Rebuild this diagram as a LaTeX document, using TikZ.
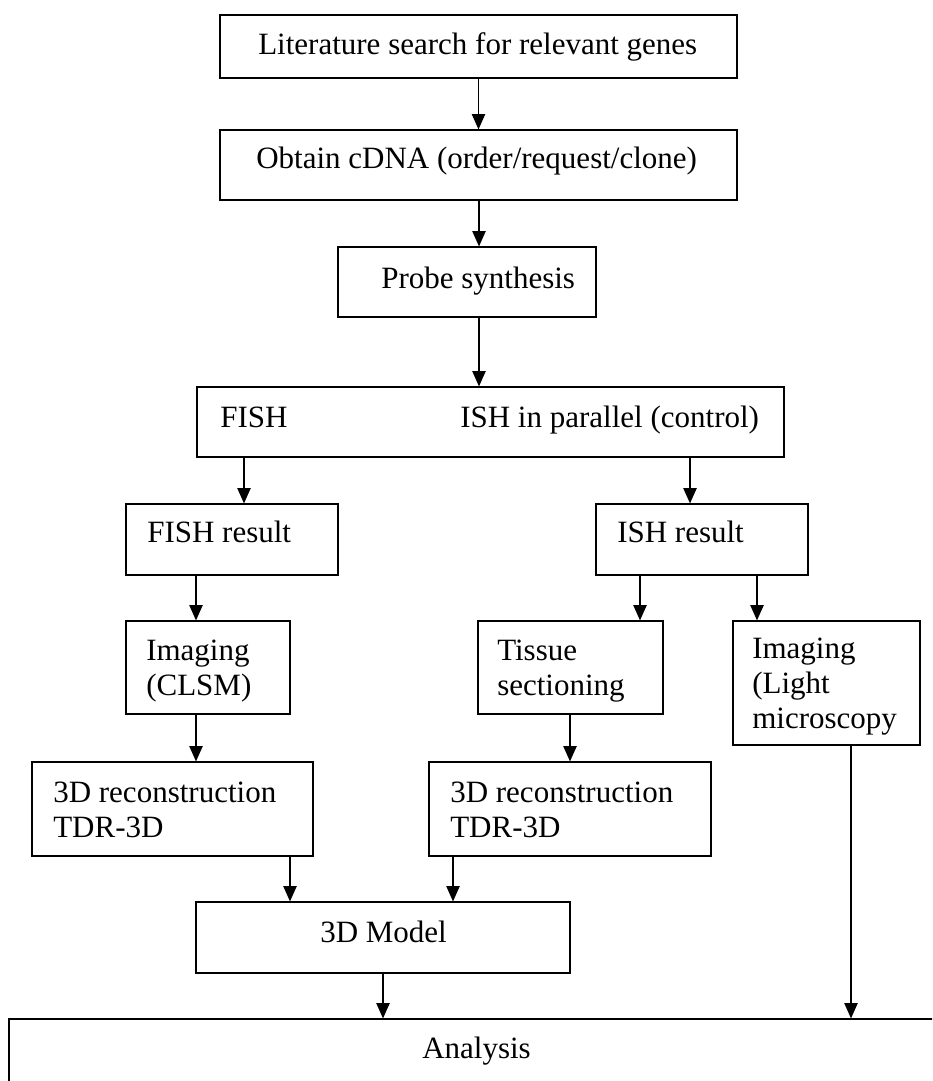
\documentclass[tikz,border=0pt]{standalone}
\usepackage{fontspec}
\setmainfont{Liberation Serif}
\usetikzlibrary{arrows.meta,fit}
\begin{document}
\begin{tikzpicture}[x=0.75pt,y=-0.75pt,
  box/.style={draw,line width=0.9pt,inner sep=0pt},
  txt/.style={anchor=base west,inner sep=0pt,align=left,font=\fontsize{23.25}{26.25}\selectfont},
  arr/.style={line width=0.9pt,-{Triangle[length=11.5pt,width=10pt]}}]
\useasboundingbox (0,0) rectangle (932,1081);
\clip (0,0) rectangle (932,1081);
% boxes
\node[box,fit={(220,15) (737,78)}] (lit) {};
\node[box,fit={(220,130) (737,200)}] (cdna) {};
\node[box,fit={(338,247) (596,317)}] (probe) {};
\node[box,fit={(197,387) (784,457)}] (hyb) {};
\node[box,fit={(126,504) (338,575)}] (fishres) {};
\node[box,fit={(596,504) (808,575)}] (ishres) {};
\node[box,fit={(126,621) (290,714)}] (clsm) {};
\node[box,fit={(478,621) (663,714)}] (tissue) {};
\node[box,fit={(733,621) (920,745)}] (light) {};
\node[box,fit={(32,762) (313,856)}] (recL) {};
\node[box,fit={(429,762) (711,856)}] (recR) {};
\node[box,fit={(196,902) (570,973)}] (model) {};
\node[box,fit={(9,1019) (960,1110)}] (ana) {};
% texts (anchor = baseline of the last line)
\node[txt] (litT) at (258,55) {Literature search for relevant genes};
\node[txt] (cdnaT) at (256,168) {Obtain cDNA (order/request/clone)};
\node[txt] (probeT) at (381,288) {Probe synthesis};
\node[txt] (fishT) at (220,427) {FISH};
\node[txt] (ishT) at (460,427) {ISH in parallel (control)};
\node[txt] (fishresT) at (147,542) {FISH result};
\node[txt] (ishresT) at (617,542) {ISH result};
\node[txt] (clsmT) at (146,695) {Imaging\\(CLSM)};
\node[txt] (tissueT) at (497,695) {Tissue\\sectioning};
\node[txt] (lightT) at (752,728) {Imaging\\(Light\\microscopy};
\node[txt] (recLT) at (53,837) {3D reconstruction\\TDR-3D};
\node[txt] (recRT) at (450,837) {3D reconstruction\\TDR-3D};
\node[txt] (modelT) at (320,942) {3D Model};
\node[txt] (anaT) at (422,1058) {Analysis};
% connectors
\draw[arr] (lit.south) -- (cdna.north);
\draw[arr] (479,0 |- cdna.south) -- (479,0 |- probe.north);
\draw[arr] (479,0 |- probe.south) -- (479,0 |- hyb.north);
\draw[arr] (244,0 |- hyb.south) -- (244,0 |- fishres.north);
\draw[arr] (690,0 |- hyb.south) -- (690,0 |- ishres.north);
\draw[arr] (196,0 |- fishres.south) -- (196,0 |- clsm.north);
\draw[arr] (640,0 |- ishres.south) -- (640,0 |- tissue.north);
\draw[arr] (757,0 |- ishres.south) -- (757,0 |- light.north);
\draw[arr] (196,0 |- clsm.south) -- (196,0 |- recL.north);
\draw[arr] (570,0 |- tissue.south) -- (570,0 |- recR.north);
\draw[arr] (290,0 |- recL.south) -- (290,0 |- model.north);
\draw[arr] (453,0 |- recR.south) -- (453,0 |- model.north);
\draw[arr] (383,0 |- model.south) -- (383,0 |- ana.north);
\draw[arr] (851,0 |- light.south) -- (851,0 |- ana.north);
\end{tikzpicture}
\end{document}
